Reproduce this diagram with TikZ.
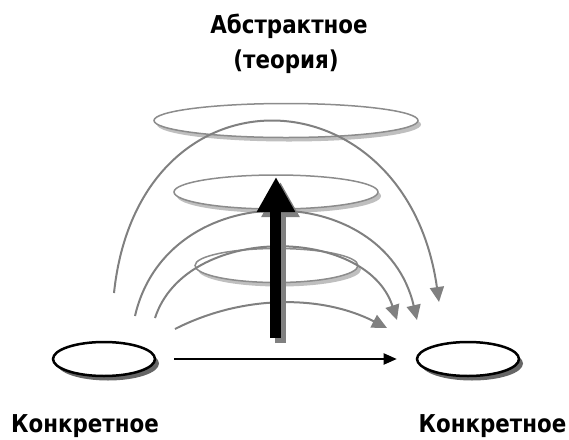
\documentclass[tikz,border=0pt]{standalone}
\usepackage{fontspec}
\setmainfont{DejaVu Sans}[FakeStretch=0.87]
\usetikzlibrary{shapes.geometric,shadows,arrows.meta}

\begin{document}
\begin{tikzpicture}[scale=0.2]
\tikzstyle{every node}+=[inner sep=0pt]
\tikzstyle{ground}=[ellipse, draw=black, line width=0.5mm, fill=white, minimum width=20.4mm, minimum height=6.8mm, drop shadow={shadow xshift=0.8mm, shadow yshift=-0.9mm, opacity=1, fill=black!60}]
\tikzstyle{plane}=[ellipse, draw=black!45, line width=0.3mm, fill=white, minimum height=6.8mm, drop shadow={shadow xshift=0.6mm, shadow yshift=-0.8mm, opacity=1, fill=black!25}]
\tikzstyle{jump}=[draw=gray, line width=0.4mm, -{Triangle[length=3mm, width=2.8mm]}]
\tikzstyle{flat}=[line width=0.4mm, -{Triangle[length=2.6mm, width=2.2mm]}, shorten <=3.6mm, shorten >=3.8mm]
\tikzstyle{rise}=[line width=2.2mm, -{Triangle[length=7mm, width=7.2mm]}]
\tikzstyle{word}=[font=\bfseries\fontsize{14}{20}\selectfont, anchor=base]
\useasboundingbox (0,0) rectangle (56.9,-43.9);
% headings
\node [word] (abstr) at (28.9,-3.3) {Абстрактное};
\node [word] (theory) at (28.6,-6.8) {(теория)};
\node [word] (nameL) at (8.5,-43.2) {Конкретное};
\node [word] (nameR) at (49.25,-43.2) {Конкретное};
% levels
\node [plane, minimum width=52.8mm] (top) at (28.6,-12.05) {};
\node [plane, minimum width=40.8mm] (mid) at (27.6,-19.2) {};
\node [plane, minimum width=32.6mm] (low) at (27.65,-26.55) {};
% the two concrete ones
\node [ground] (concL) at (10.4,-35.9) {};
\node [ground] (concR) at (46.8,-35.9) {};
\draw [flat] (concL) -- (concR);
% arcs over the levels
\coordinate (s1) at (17.5,-32.9);
\coordinate (e1) at (38.7,-32.8);
\coordinate (s2) at (15.5,-31.8);
\coordinate (e2) at (39.7,-32.0);
\coordinate (s3) at (13.5,-31.6);
\coordinate (e3) at (41.7,-32.0);
\coordinate (s4) at (11.4,-29.3);
\coordinate (e4) at (43.9,-30.2);
\draw [jump] (s1) to[out=27, in=153, looseness=0.9] (e1);
\draw [jump] (s2) to[out=72, in=108, looseness=1.05] (e2);
\draw [jump] (s3) to[out=77, in=103, looseness=1.31] (e3);
\draw [jump] (s4) to[out=84, in=98, looseness=1.85] (e4);
% big arrow up
\coordinate (foot) at (27.6,-33.8);
\coordinate (peak) at (27.6,-17.7);
\draw [rise, draw=gray, transform canvas={xshift=0.9mm, yshift=-1mm}] (foot) -- (peak);
\draw [rise] (foot) -- (peak);
\end{tikzpicture}
\end{document}
